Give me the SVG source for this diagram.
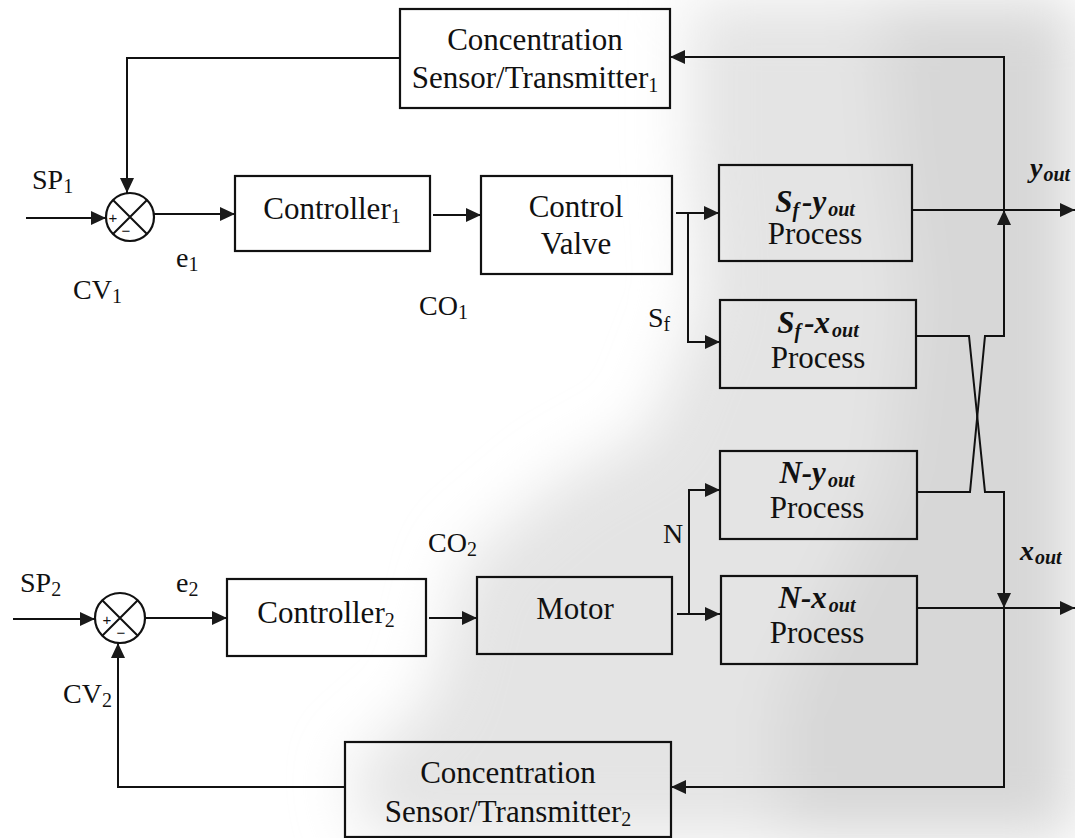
<svg xmlns="http://www.w3.org/2000/svg" width="1075" height="838" viewBox="0 0 1075 838">
  <defs>
    <marker id="arrow" markerUnits="userSpaceOnUse" markerWidth="16" markerHeight="14" refX="15" refY="7" orient="auto">
      <path d="M0,0 L15,7 L0,14 z" fill="#1a1a1a"/>
    </marker>
    <filter id="soft" x="-20%" y="-20%" width="140%" height="140%">
      <feGaussianBlur stdDeviation="30"/>
    </filter>
    <style>
      .box { fill: none; stroke: #111; stroke-width: 2.2; }
      .wire { fill: none; stroke: #111; stroke-width: 2; }
      .arr { marker-end: url(#arrow); }
      .t { font-family: "Liberation Serif", "Times New Roman", serif; font-size: 31px; fill: #111; text-anchor: middle; }
      .lab { font-family: "Liberation Serif", "Times New Roman", serif; font-size: 28px; fill: #111; }
      .bi { font-weight: bold; font-style: italic; }
      .sub { font-size: 20px; }
      .sgn { font-family: "Liberation Sans", Arial, sans-serif; font-size: 15px; fill: #111; text-anchor: middle; }
    </style>
  </defs>

  <!-- paper and grey halftone wash on the right -->
  <rect width="1075" height="838" fill="#ffffff"/>
  <g id="wash" filter="url(#soft)">
    <path d="M690,0 L1075,0 L1075,838 L370,838 L350,770 L430,700 L465,560 L560,480 L650,430 L700,300 L690,150 Z" fill="#e4e4e4"/>
    <path d="M880,0 L1075,0 L1075,838 L780,838 L780,700 L890,480 L910,300 L890,150 Z" fill="#d7d7d7"/>
  </g>

  <!-- connectors -->
  <g id="connectors">
    <path class="wire arr" d="M26,218 H106"/>
    <path class="wire arr" d="M154,214 H235"/>
    <path class="wire arr" d="M400,58 H127 V193"/>
    <path class="wire arr" d="M433,215 H481"/>
    <path class="wire arr" d="M676,213 H719"/>
    <path class="wire arr" d="M688,213 V342 H720"/>
    <path class="wire arr" d="M912,210 H1075"/>
    <path class="wire arr" d="M916,336 H969 L985,492 H1004 V608"/>
    <path class="wire arr" d="M917,492 H970 L985,336 H1004 V210"/>
    <path class="wire arr" d="M1004,210 V57 H670"/>
    <path class="wire arr" d="M917,608 H1075"/>
    <path class="wire arr" d="M1004,608 V787 H671"/>
    <path class="wire arr" d="M13,619 H95"/>
    <path class="wire arr" d="M145,618 H227"/>
    <path class="wire arr" d="M429,618 H477"/>
    <path class="wire arr" d="M677,614 H720"/>
    <path class="wire arr" d="M689,614 V490 H720"/>
    <path class="wire arr" d="M345,787 H118 V643"/>
  </g>

  <!-- signal labels -->
  <g id="labels">
    <text class="lab" x="32" y="189">SP<tspan class="sub" dy="4">1</tspan></text>
    <text class="lab" x="73" y="299">CV<tspan class="sub" dy="4">1</tspan></text>
    <text class="lab" x="176" y="267">e<tspan class="sub" dy="4">1</tspan></text>
    <text class="lab" x="419" y="315">CO<tspan class="sub" dy="4">1</tspan></text>
    <text class="lab" x="648" y="327">S<tspan class="sub" dy="4">f</tspan></text>
    <text class="lab bi" x="1030" y="177">y<tspan class="sub" dx="1" dy="4">out</tspan></text>
    <text class="lab" x="20" y="592">SP<tspan class="sub" dy="4">2</tspan></text>
    <text class="lab" x="176" y="592">e<tspan class="sub" dy="4">2</tspan></text>
    <text class="lab" x="428" y="552">CO<tspan class="sub" dy="4">2</tspan></text>
    <text class="lab" x="63" y="703">CV<tspan class="sub" dy="4">2</tspan></text>
    <text class="lab" x="663" y="543">N</text>
    <text class="lab bi" x="1020" y="560">x<tspan class="sub" dx="1" dy="4">out</tspan></text>
  </g>

  <!-- summing junctions -->
  <g id="sum1">
    <circle cx="130" cy="217" r="24" class="box"/>
    <path class="wire" d="M113,200 L147,234 M147,200 L113,234"/>
    <text class="sgn" x="113" y="223">+</text>
    <text class="sgn" x="126" y="236">−</text>
  </g>
  <g id="sum2">
    <circle cx="120" cy="618" r="25" class="box"/>
    <path class="wire" d="M102,600 L138,636 M138,600 L102,636"/>
    <text class="sgn" x="107" y="625">+</text>
    <text class="sgn" x="121" y="638">−</text>
  </g>

  <!-- blocks -->
  <g id="sensor1">
    <rect class="box" x="400" y="9" width="270" height="99"/>
    <text class="t" x="535" y="50">Concentration</text>
    <text class="t" x="535" y="88">Sensor/Transmitter<tspan class="sub" dy="4">1</tspan></text>
  </g>
  <g id="controller1">
    <rect class="box" x="235" y="176" width="195" height="75"/>
    <text class="t" x="332" y="219">Controller<tspan class="sub" dy="4">1</tspan></text>
  </g>
  <g id="valve">
    <rect class="box" x="481" y="176" width="191" height="98"/>
    <text class="t" x="576" y="217">Control</text>
    <text class="t" x="576" y="254">Valve</text>
  </g>
  <g id="sf-y">
    <rect class="box" x="719" y="165" width="193" height="96"/>
    <text class="t bi" x="815" y="212">S<tspan class="sub" dy="5">f</tspan><tspan dx="3" dy="-5">-y</tspan><tspan class="sub" dx="2" dy="4">out</tspan></text>
    <text class="t" x="815" y="244">Process</text>
  </g>
  <g id="sf-x">
    <rect class="box" x="720" y="300" width="196" height="88"/>
    <text class="t bi" x="818" y="333">S<tspan class="sub" dy="5">f</tspan><tspan dx="3" dy="-5">-x</tspan><tspan class="sub" dx="2" dy="4">out</tspan></text>
    <text class="t" x="818" y="368">Process</text>
  </g>
  <g id="n-y">
    <rect class="box" x="720" y="451" width="197" height="88"/>
    <text class="t bi" x="817" y="483">N-y<tspan class="sub" dx="2" dy="4">out</tspan></text>
    <text class="t" x="817" y="518">Process</text>
  </g>
  <g id="n-x">
    <rect class="box" x="721" y="576" width="196" height="88"/>
    <text class="t bi" x="817" y="608">N-x<tspan class="sub" dx="2" dy="4">out</tspan></text>
    <text class="t" x="817" y="643">Process</text>
  </g>
  <g id="controller2">
    <rect class="box" x="227" y="579" width="199" height="77"/>
    <text class="t" x="326" y="623">Controller<tspan class="sub" dy="4">2</tspan></text>
  </g>
  <g id="motor">
    <rect class="box" x="477" y="577" width="195" height="77"/>
    <text class="t" x="575" y="619">Motor</text>
  </g>
  <g id="sensor2">
    <rect class="box" x="345" y="742" width="326" height="95"/>
    <text class="t" x="508" y="783">Concentration</text>
    <text class="t" x="508" y="822">Sensor/Transmitter<tspan class="sub" dy="4">2</tspan></text>
  </g>
</svg>
